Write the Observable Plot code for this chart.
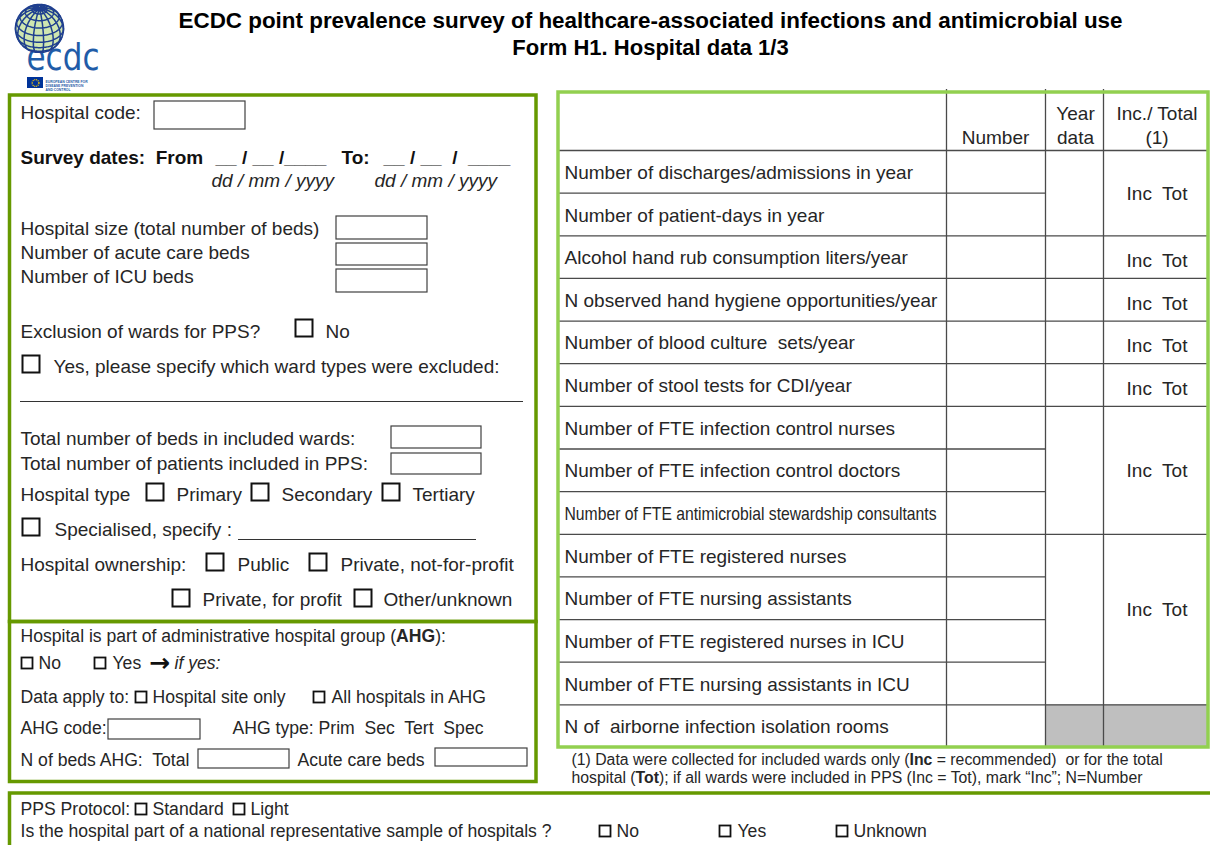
<!DOCTYPE html>
<html><head><meta charset="utf-8">
<script src="https://cdn.jsdelivr.net/npm/d3@7"></script>
<script src="https://cdn.jsdelivr.net/npm/@observablehq/plot@0.6"></script>
<style>
html,body{margin:0;padding:0;background:#fff;}
#wrap{position:relative;width:1210px;height:845px;overflow:hidden;background:#fff;}
#chart,#logo{position:absolute;left:0;top:0;}
#logo{left:11px;top:3px;}
svg text{white-space:pre;}
</style></head><body>
<div id="wrap"><div id="chart"></div><div id="logo"></div></div>
<script>
// ================= DATA (texts only) =================
const titleLines = [
  "ECDC point prevalence survey of healthcare-associated infections and antimicrobial use",
  "Form H1. Hospital data 1/3"
];
const logoWord = ["ecdc"];
const logoSmall = ["EUROPEAN CENTRE FOR", "DISEASE PREVENTION", "AND CONTROL"];

const tableHeader = ["Number", "Year\ndata", "Inc./ Total\n(1)"];
const tableRows = [
  "Number of discharges/admissions in year",
  "Number of patient-days in year",
  "Alcohol hand rub consumption liters/year",
  "N observed hand hygiene opportunities/year",
  "Number of blood culture  sets/year",
  "Number of stool tests for CDI/year",
  "Number of FTE infection control nurses",
  "Number of FTE infection control doctors",
  "Number of FTE antimicrobial stewardship consultants",
  "Number of FTE registered nurses",
  "Number of FTE nursing assistants",
  "Number of FTE registered nurses in ICU",
  "Number of FTE nursing assistants in ICU",
  "N of  airborne infection isolation rooms"
];
const rowGroups = [[0, 1], [2, 2], [3, 3], [4, 4], [5, 5], [6, 8], [9, 12]];
const greyRows = [13];
const incTotLabel = "Inc  Tot";
const footnote = [
  "(1) Data were collected for included wards only (**Inc** = recommended)  or for the total",
  "hospital (**Tot**); if all wards were included in PPS (Inc = Tot), mark \u201cInc\u201d; N=Number"
];

const hospitalCodeLabel = "Hospital code:";
const surveyDates = ["Survey dates:  From", "__ / __ /____", "To:", "__ / __  /  ____"];
const dateFormat = "dd / mm / yyyy";
const hospitalFields = ["Hospital size (total number of beds)", "Number of acute care beds", "Number of ICU beds"];
const exclusionLabels = ["Exclusion of wards for PPS?", "No", "Yes, please specify which ward types were excluded:"];
const wardFields = ["Total number of beds in included wards:", "Total number of patients included in PPS:"];
const hospitalTypeLabel = "Hospital type";
const hospitalTypes = ["Primary", "Secondary", "Tertiary"];
const specialisedLabel = "Specialised, specify :";
const ownershipLabel = "Hospital ownership:";
const ownership = ["Public", "Private, not-for-profit", "Private, for profit", "Other/unknown"];

const ahgQuestion = "Hospital is part of administrative hospital group (**AHG**):";
const ahgAnswers = ["No", "Yes"];
const ahgArrow = ["\u2192"];
const ahgIfYes = ["if yes:"];
const dataApplyLabel = "Data apply to:";
const dataApply = ["Hospital site only", "All hospitals in AHG"];
const ahgCodeLabel = "AHG code:";
const ahgTypeLabel = "AHG type:";
const ahgTypes = ["Prim", "Sec", "Tert", "Spec"];
const ahgBedsLabels = ["N of beds AHG:  Total", "Acute care beds"];

const protocolLabel = "PPS Protocol:";
const protocolOptions = ["Standard", "Light"];
const sampleQuestion = "Is the hospital part of a national representative sample of hospitals ?";
const sampleOptions = ["No", "Yes", "Unknown"];

// ================= LAYOUT =================
const W = 1210, H = 845;
const FONT = "'Liberation Sans', Arial, Helvetica, sans-serif";
const INK = "#262626";
const DARK_GREEN = "#669900";
const LIGHT_GREEN = "#92d050";
const GRID = "#4a4a4a";
const F1 = 19, F2 = 17.6, F3 = 15.8;

// table geometry
const colEdges = [558, 946, 1045, 1103, 1208];
const tTop = 92, tHead = 150, tBottom = 747;
const rowH = (tBottom - tHead) / tableRows.length;
const rowTop = i => tHead + i * rowH;
const rowMid = i => tHead + (i + 0.5) * rowH;
const colMid = j => (colEdges[j] + colEdges[j + 1]) / 2;

const tableLabelTexts = tableRows.map((t, i) => ({x: 564, y: rowMid(i) + 1, t}));
const headerTexts = tableHeader.map((t, k) => ({x: k === 0 ? 995 : colMid(k + 1) + 1, y: k === 0 ? 136 : 124, t}));
const groupEnds = new Set(rowGroups.map(g => g[1]));
const hLines = [{x1: colEdges[0], x2: colEdges[4], y: tHead}];
for (let i = 0; i < tableRows.length - 1; i++) {
  hLines.push({x1: colEdges[0], x2: groupEnds.has(i) ? colEdges[4] : colEdges[2], y: rowTop(i + 1)});
}
const vLines = colEdges.slice(1, 4).map(x => ({x, y1: tTop - 3, y2: tBottom}));
const greyCells = greyRows.map(i => ({x1: colEdges[2], x2: colEdges[4], y1: rowTop(i), y2: rowTop(i + 1)}));
const incTexts = rowGroups.map(([a, b]) => ({
  x: colMid(3) + 1,
  y: (b - a >= 3 ? rowTop(a + 1.75) : (rowTop(a) + rowTop(b + 1)) / 2) + (a === b ? 4 : 1),
  t: incTotLabel
}));
const footTexts = footnote.map((t, i) => ({x: 571, y: 759 + i * 18, t}));

// frames
const frames = [
  {x1: 9.5, x2: 536, y1: 95, y2: 621.5},
  {x1: 9.5, x2: 536, y1: 621.5, y2: 781.5},
  {x1: 9.5, x2: 1214, y1: 793, y2: 852}
];
const tableFrame = [{x1: colEdges[0], x2: colEdges[4], y1: tTop, y2: tBottom}];

const t17 = [
  {x: 20, y: 112, t: hospitalCodeLabel},
  ...hospitalFields.map((t, i) => ({x: 20, y: 228 + i * 24, t})),
  {x: 20, y: 331, t: exclusionLabels[0]},
  {x: 325, y: 331, t: exclusionLabels[1]},
  {x: 53, y: 366, t: exclusionLabels[2]},
  ...wardFields.map((t, i) => ({x: 20, y: 438 + i * 25, t})),
  {x: 20, y: 494, t: hospitalTypeLabel},
  ...hospitalTypes.map((t, i) => ({x: [176, 281, 412][i], y: 494, t})),
  {x: 54, y: 529, t: specialisedLabel},
  {x: 20, y: 564, t: ownershipLabel},
  ...ownership.map((t, i) => ({x: [237, 340, 202, 383][i], y: [564, 564, 599, 599][i], t}))
];
const t17bold = surveyDates.map((t, i) => ({x: [20, 215, 341, 383][i], y: 157, t}));
const t17ital = [{x: 211, y: 180, t: dateFormat}, {x: 374, y: 180, t: dateFormat}];

const t15 = [
  {x: 20, y: 636, t: ahgQuestion},
  {x: 38, y: 663, t: ahgAnswers[0]},
  {x: 112, y: 663, t: ahgAnswers[1]},
  {x: 20, y: 697, t: dataApplyLabel},
  {x: 152, y: 697, t: dataApply[0]},
  {x: 331, y: 697, t: dataApply[1]},
  {x: 20, y: 728, t: ahgCodeLabel},
  {x: 232, y: 728, t: ahgTypeLabel + " " + ahgTypes.join("  ")},
  {x: 20, y: 760, t: ahgBedsLabels[0]},
  {x: 297, y: 760, t: ahgBedsLabels[1]},
  {x: 20, y: 809, t: protocolLabel},
  ...protocolOptions.map((t, i) => ({x: [152, 250][i], y: 809, t})),
  {x: 20, y: 831, t: sampleQuestion},
  ...sampleOptions.map((t, i) => ({x: [616, 737, 853][i], y: 831, t}))
];
const arrowTexts = [{x: 159, y: 662, t: ahgArrow[0]}];
const ifYesTexts = [{x: 174, y: 663, t: ahgIfYes[0]}];

const inputs = [
  [154, 245, 101, 129],
  [336, 427, 216, 239], [336, 427, 243, 265], [336, 427, 269, 292],
  [391, 481, 426, 448], [391, 481, 453, 474],
  [108, 200, 719, 739], [198, 289, 749, 768], [435, 527, 748, 766]
].map(([x1, x2, y1, y2]) => ({x1, x2, y1, y2}));

const bigChecks = [[304, 328], [31, 364], [155, 492], [260, 492], [391, 492], [31, 527], [215, 562], [318, 562], [181, 598], [363, 598]]
  .map(([cx, cy]) => ({x1: cx - 8.5, x2: cx + 8.5, y1: cy - 8.5, y2: cy + 8.5}));
const smallChecks = [[27, 663], [100, 663], [141, 697], [319, 697], [141, 809], [239, 809], [605, 831], [725, 831], [842, 831]]
  .map(([cx, cy]) => ({x1: cx - 5.5, x2: cx + 5.5, y1: cy - 5.5, y2: cy + 5.5}));
const underlines = [{x1: 20, x2: 523, y: 401}, {x1: 238, x2: 476, y: 539}];

const titleTexts = titleLines.map((t, i) => ({x: 650, y: 20 + i * 27, t}));

// logo pieces
const logoText = [{x: 26, y: 57, t: logoWord[0]}];
const logoSmallTexts = logoSmall.map((t, i) => ({x: 45, y: 81 + i * 4.2, t}));
const flag = [{x1: 27, x2: 43, y1: 77, y2: 88}];
const flagStars = [{x: 35, y: 82.5}];

// ================= PLOT =================
const txt = (data, o = {}) => Plot.text(data, {
  x: "x", y: "y", text: "t", textAnchor: o.anchor || "start",
  fontSize: o.size || F1, fontWeight: o.weight || "normal", fontStyle: o.style || "normal",
  fill: o.fill || INK, lineHeight: o.lh || 1, fontFamily: o.family || FONT
});
const rect = (data, o) => Plot.rect(data, {x1: "x1", x2: "x2", y1: "y1", y2: "y2", ...o});

const chart = Plot.plot({
  width: W, height: H, margin: 0,
  x: {domain: [0, W], range: [0, W], axis: null},
  y: {domain: [0, H], range: [0, H], axis: null},
  style: {fontFamily: FONT, background: "#fff"},
  marks: [
    // title
    txt(titleTexts, {anchor: "middle", size: 22, weight: "bold", fill: "#000"}),
    // logo
    txt(logoText, {size: 38, fill: "#1f5ca8", family: "'DejaVu Sans', sans-serif"}),
    rect(flag, {fill: "#003399"}),
    Plot.dot(flagStars, {x: "x", y: "y", r: 3.4, stroke: "#ffcc00", strokeWidth: 1.3, strokeDasharray: "1 0.8"}),
    txt(logoSmallTexts, {size: 3.4, weight: "bold", fill: "#1f5ca8"}),
    // table
    rect(greyCells, {fill: "#bfbfbf"}),
    Plot.ruleY(hLines, {y: "y", x1: "x1", x2: "x2", stroke: GRID, strokeWidth: 1.3}),
    Plot.ruleX(vLines, {x: "x", y1: "y1", y2: "y2", stroke: GRID, strokeWidth: 1.3}),
    rect(tableFrame, {fill: "none", stroke: LIGHT_GREEN, strokeWidth: 3.5}),
    txt(tableLabelTexts),
    txt(headerTexts, {anchor: "middle", lh: 1.27}),
    txt(incTexts, {anchor: "middle"}),
    txt(footTexts, {size: F3}),
    // left frames
    rect(frames, {fill: "none", stroke: DARK_GREEN, strokeWidth: 3.5}),
    rect(inputs, {fill: "none", stroke: "#404040", strokeWidth: 1.2}),
    rect(bigChecks, {fill: "none", stroke: "#111", strokeWidth: 2}),
    rect(smallChecks, {fill: "none", stroke: "#111", strokeWidth: 1.8}),
    Plot.ruleY(underlines, {y: "y", x1: "x1", x2: "x2", stroke: "#333", strokeWidth: 1.2}),
    txt(t17),
    txt(t17bold, {weight: "bold", fill: "#111"}),
    txt(t17ital, {style: "italic"}),
    txt(t15, {size: F2}),
    txt(arrowTexts, {anchor: "middle", size: 25, weight: "bold", fill: "#111", family: "'DejaVu Sans', sans-serif"}),
    txt(ifYesTexts, {size: F2, style: "italic"})
  ]
});

// rich text: **bold**, ~~italic~~
d3.select(chart).selectAll("text").each(function () {
  if (this.querySelector("tspan")) return;
  const s = this.textContent;
  if (!/\*\*|~~/.test(s)) return;
  const parts = s.split(/(\*\*[^*]+\*\*|~~[^~]+~~)/).filter(p => p);
  this.textContent = "";
  for (const p of parts) {
    const ts = d3.select(this).append("tspan");
    if (p.startsWith("**")) ts.attr("font-weight", "bold").text(p.slice(2, -2));
    else if (p.startsWith("~~")) ts.attr("font-style", "italic").text(p.slice(2, -2));
    else ts.text(p);
  }
});
// fitted widths: condensed label, logo word, title
const fitted = new Map([[tableRows[8], 372], [logoWord[0], 73], [titleLines[0], 944]]);
d3.select(chart).selectAll("text").each(function () {
  const w = fitted.get(this.textContent);
  if (w) { this.setAttribute("textLength", w); this.setAttribute("lengthAdjust", "spacingAndGlyphs"); }
});
document.getElementById("chart").append(chart);

// globe logo
const globe = Plot.plot({
  width: 56, height: 50, margin: 0,
  projection: {type: "orthographic", rotate: [-15, -35], inset: 1},
  marks: [
    Plot.sphere({fill: "#cfe6b0", stroke: "#1f3f8f", strokeWidth: 1.6}),
    Plot.geo(d3.geoGraticule().step([25, 18])(), {stroke: "#1f3f8f", strokeWidth: 1.5})
  ]
});
document.getElementById("logo").append(globe);
</script></body></html>
